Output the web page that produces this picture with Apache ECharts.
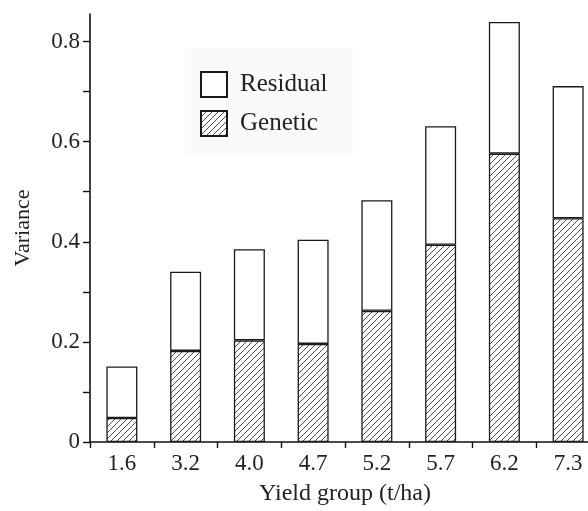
<!DOCTYPE html>
<html>
<head>
<meta charset="utf-8">
<script src="https://cdn.jsdelivr.net/npm/echarts@6/dist/echarts.min.js"></script>
<style>html,body{margin:0;padding:0;background:#fff;overflow:hidden;width:588px;height:511px;}#c{width:600px;height:511px;}</style>
</head>
<body>
<div id="c"></div>
<script>
var categories = ['1.6', '3.2', '4.0', '4.7', '5.2', '5.7', '6.2', '7.3'];
var genetic = [0.048, 0.182, 0.203, 0.196, 0.262, 0.394, 0.576, 0.447];
var residual = [0.103, 0.158, 0.182, 0.208, 0.221, 0.237, 0.263, 0.264];
var yTicks = [0, 0.1, 0.2, 0.3, 0.4, 0.5, 0.6, 0.7, 0.8];
var yLabels = [0, 0.2, 0.4, 0.6, 0.8];

function hatch() {
  var s = 6;
  var cv = document.createElement('canvas');
  cv.width = s; cv.height = s;
  var ctx = cv.getContext('2d');
  ctx.fillStyle = '#fff';
  ctx.fillRect(0, 0, s, s);
  ctx.strokeStyle = '#3a3a3a';
  ctx.lineWidth = 0.9;
  ctx.beginPath();
  ctx.moveTo(-1, s + 1); ctx.lineTo(s + 1, -1);
  ctx.moveTo(-1, 1); ctx.lineTo(1, -1);
  ctx.moveTo(s - 1, s + 1); ctx.lineTo(s + 1, s - 1);
  ctx.stroke();
  return cv;
}

var font = 'Liberation Serif';
var chart = echarts.init(document.getElementById('c'), null, {renderer: 'canvas'});
chart.setOption({
  animation: false,
  backgroundColor: '#fff',
  grid: {left: 90, top: 14, right: 0, bottom: 68},
  legend: {
    data: ['Residual', 'Genetic'],
    orient: 'vertical',
    left: 185, top: 48,
    padding: [23, 25, 18, 15],
    backgroundColor: '#fafafa',
    itemWidth: 26, itemHeight: 25, itemGap: 12,
    icon: 'rect',
    textStyle: {fontFamily: font, fontSize: 25, color: '#222', padding: [0, 0, 0, 8]}
  },
  xAxis: {
    type: 'category',
    data: categories,
    name: 'Yield group (t/ha)',
    nameLocation: 'middle',
    nameGap: 40,
    nameTextStyle: {fontFamily: font, fontSize: 24, color: '#222'},
    axisLine: {lineStyle: {color: '#111', width: 1.6}},
    axisTick: {show: true, length: 6, alignWithLabel: false, lineStyle: {color: '#111', width: 1.4}},
    axisLabel: {fontFamily: font, fontSize: 23, color: '#222', margin: 10}
  },
  yAxis: {
    type: 'value',
    min: 0, max: 0.855,
    name: 'Variance',
    nameLocation: 'middle',
    nameGap: 56,
    nameTextStyle: {fontFamily: font, fontSize: 22, color: '#222'},
    splitLine: {show: false},
    axisLine: {show: true, lineStyle: {color: '#111', width: 1.6}},
    axisTick: {show: true, length: 7, customValues: yTicks, lineStyle: {color: '#111', width: 1.4}},
    axisLabel: {
      fontFamily: font, fontSize: 23, color: '#222', margin: 10,
      customValues: yLabels,
      formatter: function (v) { return v === 0 ? '0' : v.toFixed(1); }
    }
  },
  series: [
    {
      name: 'Genetic', type: 'bar', stack: 'v', data: genetic, barWidth: 31,
      itemStyle: {color: {image: hatch(), repeat: 'repeat'}, borderColor: '#1a1a1a', borderWidth: 1.3}
    },
    {
      name: 'Residual', type: 'bar', stack: 'v', data: residual, barWidth: 31,
      itemStyle: {color: '#ffffff', borderColor: '#1a1a1a', borderWidth: 1.3}
    }
  ]
});
</script>
</body>
</html>
